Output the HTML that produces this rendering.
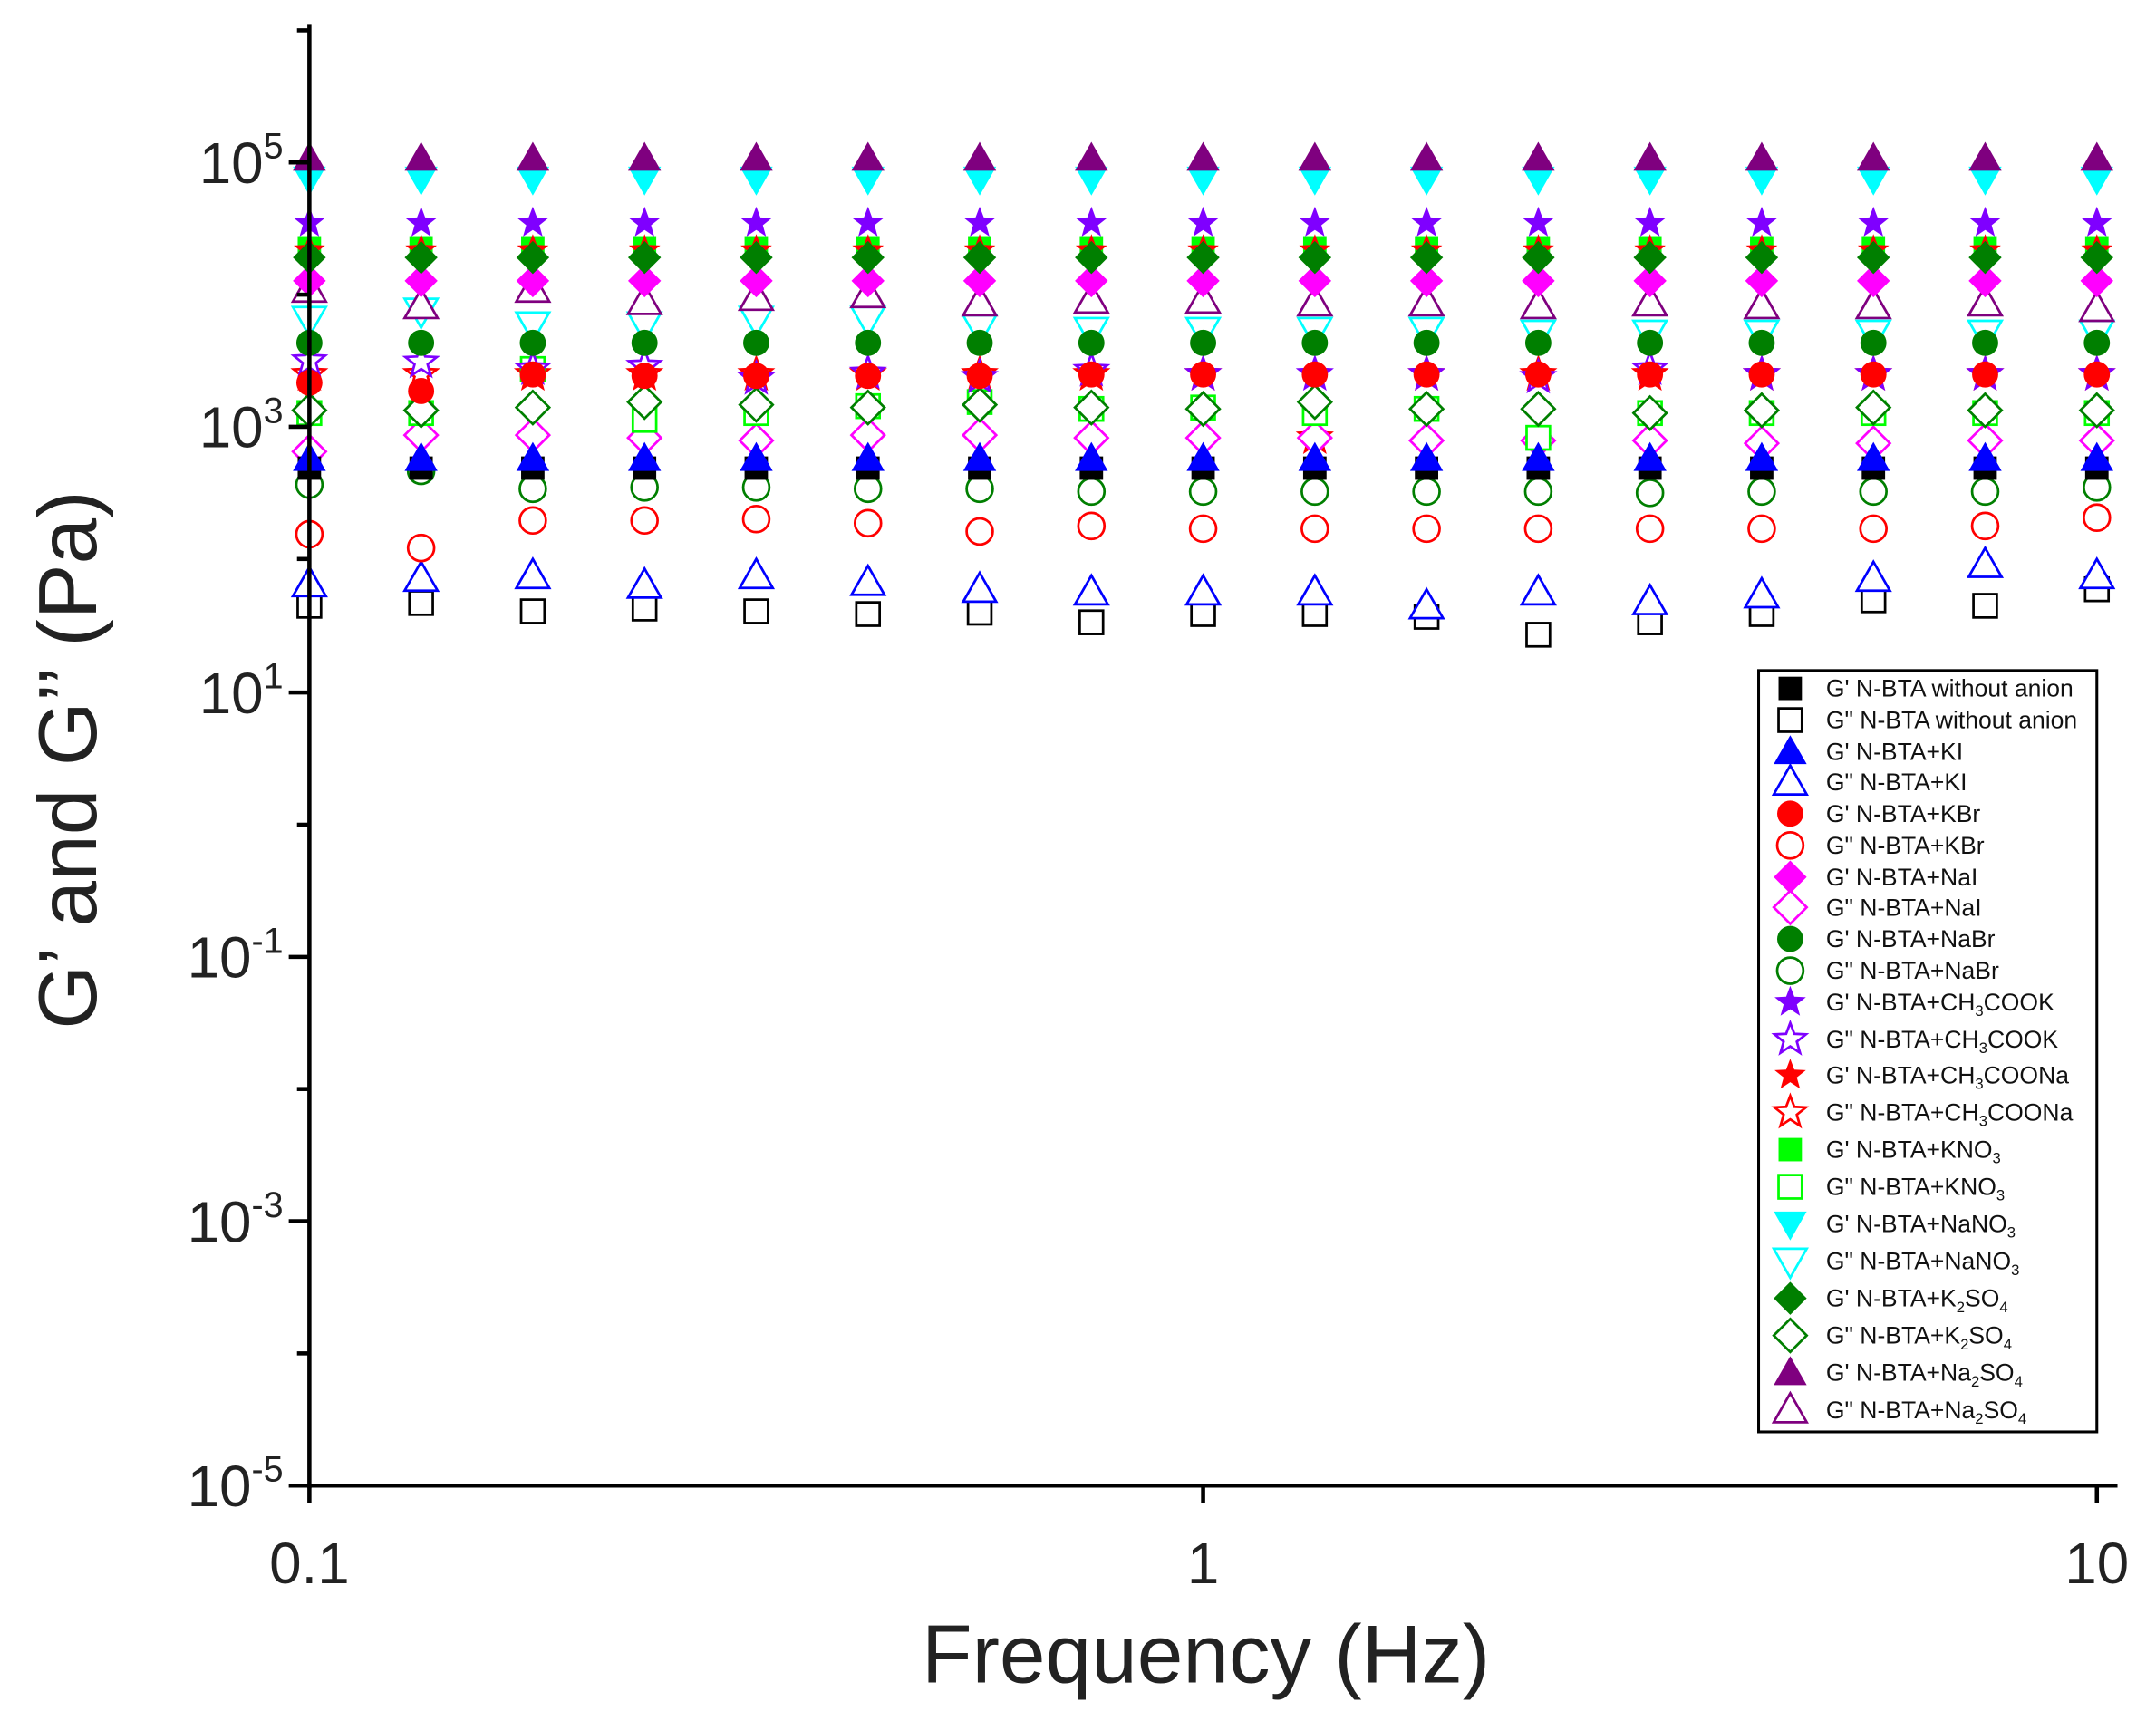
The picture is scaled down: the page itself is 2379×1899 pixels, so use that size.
<!DOCTYPE html>
<html><head><meta charset="utf-8"><style>html,body{margin:0;padding:0;background:#fff}svg{display:block}</style></head>
<body>
<svg id="s" width="2379" height="1899" viewBox="0 0 1568 1250" preserveAspectRatio="none" xmlns="http://www.w3.org/2000/svg" font-family="Liberation Sans, Arial, sans-serif">
<rect width="1568" height="1250" fill="#fff"/>
<g id="data"></g>
<g stroke="#000" stroke-width="3" fill="none">
<line x1="225" y1="18" x2="225" y2="1081"/>
<line x1="223" y1="1079" x2="1540" y2="1079"/>
<line x1="210" y1="118" x2="225" y2="118"/><line x1="210" y1="310" x2="225" y2="310"/><line x1="210" y1="503" x2="225" y2="503"/><line x1="210" y1="695" x2="225" y2="695"/><line x1="210" y1="887" x2="225" y2="887"/><line x1="210" y1="1079" x2="225" y2="1079"/>
<line x1="216" y1="22" x2="225" y2="22"/><line x1="216" y1="214" x2="225" y2="214"/><line x1="216" y1="406" x2="225" y2="406"/><line x1="216" y1="599" x2="225" y2="599"/><line x1="216" y1="791" x2="225" y2="791"/><line x1="216" y1="983" x2="225" y2="983"/>
<line x1="225" y1="1079" x2="225" y2="1092"/><line x1="875" y1="1079" x2="875" y2="1092"/><line x1="1525" y1="1079" x2="1525" y2="1092"/>
</g>
<g font-size="42" fill="#222" text-anchor="end">
<text x="206" y="133">10<tspan font-size="26" dy="-18">5</tspan></text>
<text x="206" y="325">10<tspan font-size="26" dy="-18">3</tspan></text>
<text x="206" y="518">10<tspan font-size="26" dy="-18">1</tspan></text>
<text x="206" y="710">10<tspan font-size="26" dy="-18">-1</tspan></text>
<text x="206" y="902">10<tspan font-size="26" dy="-18">-3</tspan></text>
<text x="206" y="1094">10<tspan font-size="26" dy="-18">-5</tspan></text>
</g>
<g font-size="42" fill="#222" text-anchor="middle">
<text x="225" y="1150">0.1</text><text x="875" y="1150">1</text><text x="1525" y="1150">10</text>
</g>
<text x="877" y="1222" font-size="60" fill="#222" text-anchor="middle">Frequency (Hz)</text>
<text transform="translate(70,552) rotate(-90)" font-size="60" fill="#222" text-anchor="middle">G’ and G’’ (Pa)</text>
<rect x="1279" y="487" width="246" height="553" fill="#fff" stroke="#000" stroke-width="2"/>
<g id="leg"></g>
</svg>
<script>
var NS="http://www.w3.org/2000/svg";
function el(t,a,p){var e=document.createElementNS(NS,t);for(var k in a)e.setAttribute(k,a[k]);p.appendChild(e);return e;}
function star(cx,cy,r){var p=[];for(var i=0;i<10;i++){var rr=i%2?r*0.42:r;var a=-Math.PI/2+i*Math.PI/5;p.push((cx+rr*Math.cos(a)).toFixed(1)+","+(cy+rr*Math.sin(a)).toFixed(1));}return p.join(" ");}
function marker(g,shape,c,filled,x,y){
 var a={fill:filled?c:"#fff",stroke:c,"stroke-width":filled?0:1.8};
 if(shape=="sq")el("rect",Object.assign({x:x-8.5,y:y-8.5,width:17,height:17},a),g);
 else if(shape=="ci")el("circle",Object.assign({cx:x,cy:y,r:9.5},a),g);
 else if(shape=="tu")el("polygon",Object.assign({points:(x-12)+","+(y+9)+" "+(x+12)+","+(y+9)+" "+x+","+(y-12)},a),g);
 else if(shape=="td")el("polygon",Object.assign({points:(x-12)+","+(y-9)+" "+(x+12)+","+(y-9)+" "+x+","+(y+12)},a),g);
 else if(shape=="di")el("polygon",Object.assign({points:x+","+(y-12)+" "+(x+12)+","+y+" "+x+","+(y+12)+" "+(x-12)+","+y},a),g);
 else if(shape=="st")el("polygon",Object.assign({points:star(x,y,12)},a),g);
}
function C(v){var r=[];for(var i=0;i<17;i++)r.push(v);return r;}
var cn=C(272);cn[9]=318;
var series=[
 ["sq","#000",1,C(340),"G' N-BTA without anion"],
 ["sq","#000",0,[440,438,444,442,444,446,445,452,446,446,448,461,452,446,436,440,428],"G\" N-BTA without anion"],
 ["tu","#0000ff",1,C(333),"G' N-BTA+KI"],
 ["tu","#0000ff",0,[424,420,418,425,418,423,428,430,430,430,440,430,437,432,420,410,418],"G\" N-BTA+KI"],
 ["ci","#ff0000",1,[278,284,272,273,273,273,273,272,272,272,272,272,272,272,272,272,272],"G' N-BTA+KBr"],
 ["ci","#ff0000",0,[388,398,378,378,377,380,386,382,384,384,384,384,384,384,384,382,376],"G\" N-BTA+KBr"],
 ["di","#ff00ff",1,C(204),"G' N-BTA+NaI"],
 ["di","#ff00ff",0,[328,316,316,318,320,316,316,318,318,318,320,320,320,322,322,320,320],"G\" N-BTA+NaI"],
 ["ci","#007f00",1,C(249),"G' N-BTA+NaBr"],
 ["ci","#007f00",0,[352,342,355,354,354,355,355,357,357,357,357,357,358,357,357,357,354],"G\" N-BTA+NaBr"],
 ["st","#7f00ff",1,C(162),"G' N-BTA+CH<tspan font-size='11' dy='4'>3</tspan><tspan dy='-4'>COOK</tspan>"],
 ["st","#7f00ff",0,[262,263,268,266,275,271,274,269,272,272,272,274,268,272,272,272,272],"G\" N-BTA+CH<tspan font-size='11' dy='4'>3</tspan><tspan dy='-4'>COOK</tspan>"],
 ["st","#ff0000",1,C(182),"G' N-BTA+CH<tspan font-size='11' dy='4'>3</tspan><tspan dy='-4'>COONa</tspan>"],
 ["st","#ff0000",0,cn,"G\" N-BTA+CH<tspan font-size='11' dy='4'>3</tspan><tspan dy='-4'>COONa</tspan>"],
 ["sq","#00ff00",1,C(180),"G' N-BTA+KNO<tspan font-size='11' dy='4'>3</tspan>"],
 ["sq","#00ff00",0,[300,300,268,305,300,295,292,297,296,300,297,318,300,300,300,300,300],"G\" N-BTA+KNO<tspan font-size='11' dy='4'>3</tspan>"],
 ["td","#00ffff",1,C(130),"G' N-BTA+NaNO<tspan font-size='11' dy='4'>3</tspan>"],
 ["td","#00ffff",0,[232,226,236,236,232,232,238,240,240,240,240,242,242,242,242,242,242],"G\" N-BTA+NaNO<tspan font-size='11' dy='4'>3</tspan>"],
 ["di","#007f00",1,C(187),"G' N-BTA+K<tspan font-size='11' dy='4'>2</tspan><tspan dy='-4'>SO</tspan><tspan font-size='11' dy='4'>4</tspan>"],
 ["di","#007f00",0,[298,298,296,292,294,296,294,296,297,292,297,297,300,298,296,298,298],"G\" N-BTA+K<tspan font-size='11' dy='4'>2</tspan><tspan dy='-4'>SO</tspan><tspan font-size='11' dy='4'>4</tspan>"],
 ["tu","#7f007f",1,C(115),"G' N-BTA+Na<tspan font-size='11' dy='4'>2</tspan><tspan dy='-4'>SO</tspan><tspan font-size='11' dy='4'>4</tspan>"],
 ["tu","#7f007f",0,[210,222,210,219,216,214,220,218,218,220,220,222,220,222,222,220,224],"G\" N-BTA+Na<tspan font-size='11' dy='4'>2</tspan><tspan dy='-4'>SO</tspan><tspan font-size='11' dy='4'>4</tspan>"]
];
var order=[13,1,3,5,9,7,15,19,11,17,21,0,2,4,8,6,14,12,18,10,16,20];
var dg=document.getElementById("data");
order.forEach(function(si){var s=series[si];for(var k=0;k<17;k++){marker(dg,s[0],s[1],s[2],225+k*81.25,s[3][k]);}});
var ly=[500,523,546,568,591,614,637,659,682,705,728,755,781,808,835,862,889,916,943,970,997,1024];
var lg=document.getElementById("leg");
series.forEach(function(s,i){marker(lg,s[0],s[1],s[2],1302,ly[i]);
 var t=el("text",{x:1328,y:ly[i]+6,"font-size":17.5,fill:"#111"},lg);t.innerHTML=s[4];});
</script>
</body></html>
